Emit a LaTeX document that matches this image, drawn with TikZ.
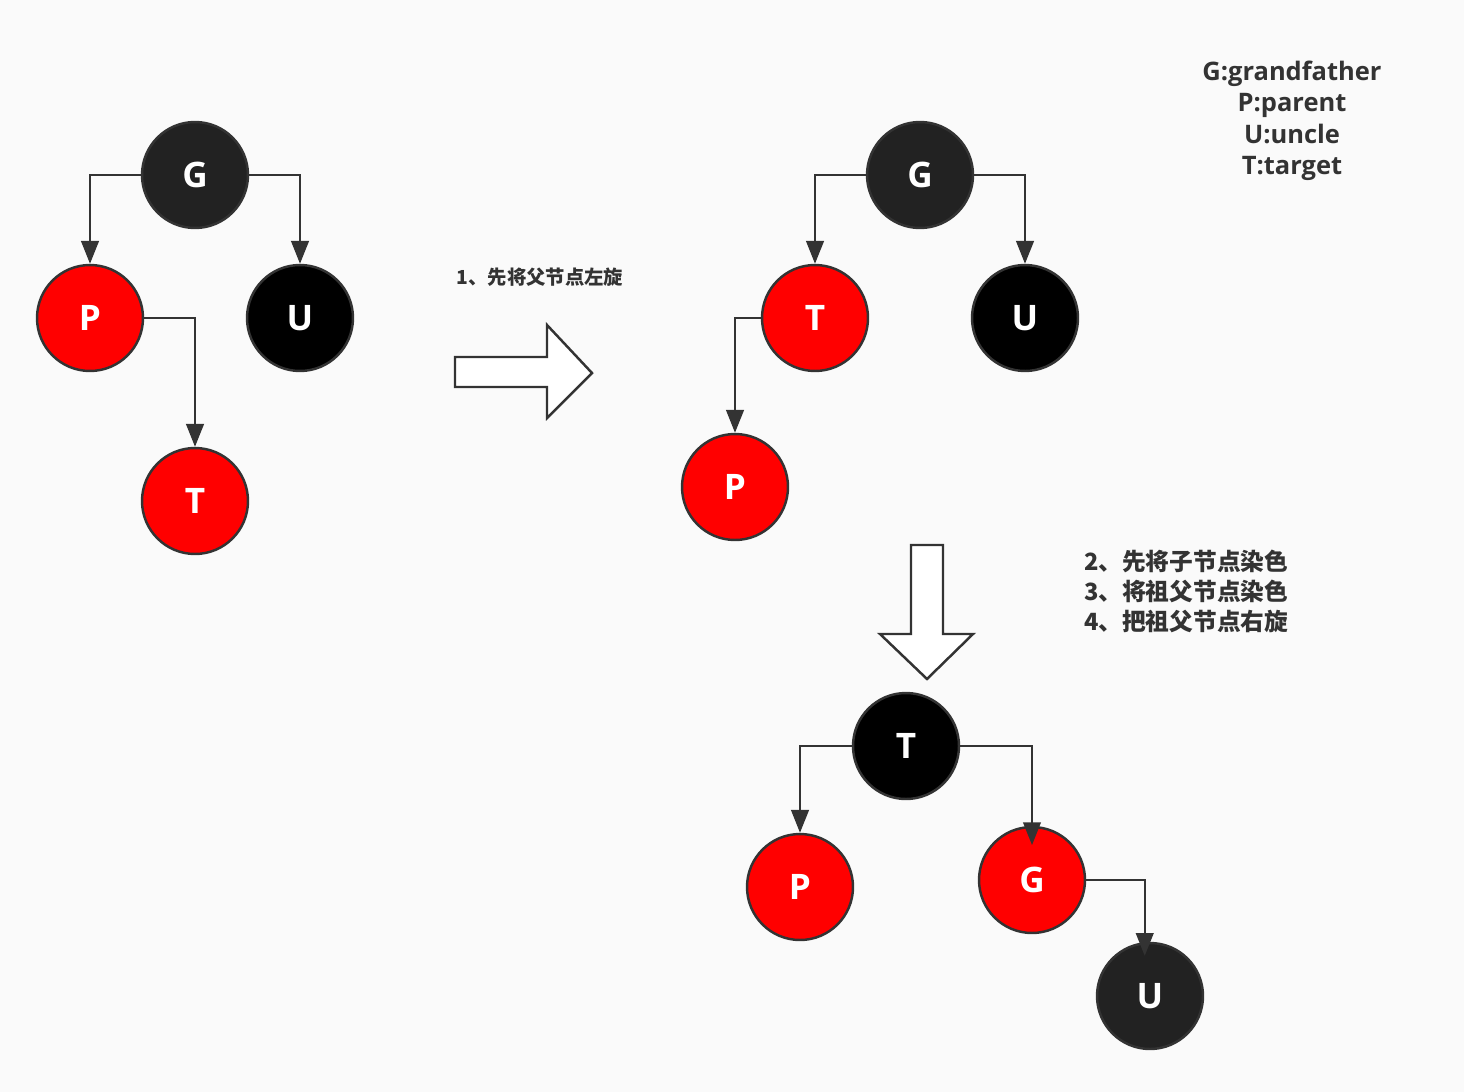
\documentclass[tikz,border=0pt]{standalone}
\usepackage{fontspec}
\setmainfont{Open Sans}
\newfontfamily\cjk{Noto Sans CJK SC}
\usepackage{xcolor}
\usetikzlibrary{arrows.meta}
\definecolor{rbred}{HTML}{FF0000}
\definecolor{rbdark}{HTML}{222222}
\definecolor{rbline}{HTML}{333333}
\definecolor{rbpaper}{HTML}{FAFAFA}

\begin{document}
\begin{tikzpicture}[x=0.02cm,y=-0.02cm,>={Triangle[length=13pt,width=10pt]},
                    line width=1.4pt,
                    rb node/.style={circle,draw=rbline,line width=1.4pt,inner sep=0pt,
                                    minimum size=2.12cm,text=white,
                                    font=\bfseries\fontsize{20}{22}\selectfont},
                    red node/.style={rb node,fill=rbred},
                    black node/.style={rb node,fill=black},
                    dark node/.style={rb node,fill=rbdark},
                    link/.style={->,draw=rbline},
                    big arrow/.style={draw=rbline,fill=white,line width=1.4pt},
                    note/.style={text=rbline,font=\cjk\bfseries}]
  \fill[rbpaper] (0,0) rectangle (1464,1092);
  \useasboundingbox (0,0) rectangle (1464,1092);

  % first tree
  \node[dark node]  (G1) at (195,175) {G};
  \node[red node]   (P1) at (90,318)  {P};
  \node[black node] (U1) at (300,318) {U};
  \node[red node]   (T1) at (195,501) {T};

  \draw[link] (G1.west) -| (P1);
  \draw[link] (G1.east) -| (U1);
  \draw[link] (P1.east) -| (T1);

  % step 1
  \node[note,font=\cjk\bfseries\fontsize{11}{13}\selectfont] (s1) at (540,277) {1、先将父节点左旋};
  \draw[big arrow] (455,357) -- (547,357) -- (547,325) -- (592,373)
                   -- (547,418) -- (547,387) -- (455,387) -- cycle;

  % second tree
  \node[dark node]  (G2) at (920,175)  {G};
  \node[red node]   (T2) at (815,318)  {T};
  \node[black node] (U2) at (1025,318) {U};
  \node[red node]   (P2) at (735,487)  {P};

  \draw[link] (G2.west) -| (T2);
  \draw[link] (G2.east) -| (U2);
  \draw[link] (T2.west) -| (P2);

  % legend
  \node[text=rbline,align=center,font=\bfseries\fontsize{14.5}{17.9}\selectfont] (key) at (1292,121)
    {G:grandfather\\P:parent\\U:uncle\\T:target};

  % steps 2-4
  \node[note,anchor=west,align=left,font=\cjk\bfseries\fontsize{13.5}{17.1}\selectfont] (s2) at (1077,591)
    {2、先将子节点染色\\3、将祖父节点染色\\4、把祖父节点右旋};
  \draw[big arrow] (911,545) -- (943,545) -- (943,634) -- (973,634)
                   -- (927,679) -- (880,634) -- (911,634) -- cycle;

  % third tree
  \node[black node] (T3) at (906,746)  {T};
  \node[red node]   (P3) at (800,887)  {P};
  \node[red node]   (G3) at (1032,880) {G};
  \node[dark node]  (U3) at (1150,996) {U};

  \draw[link] (T3.west) -| (P3);
  \draw[link,shorten >=-11pt] (T3.east) -| (G3);
  \draw[link,shorten >=-8pt] (G3.east) -| ([xshift=-3pt]U3.north);
\end{tikzpicture}
\end{document}
